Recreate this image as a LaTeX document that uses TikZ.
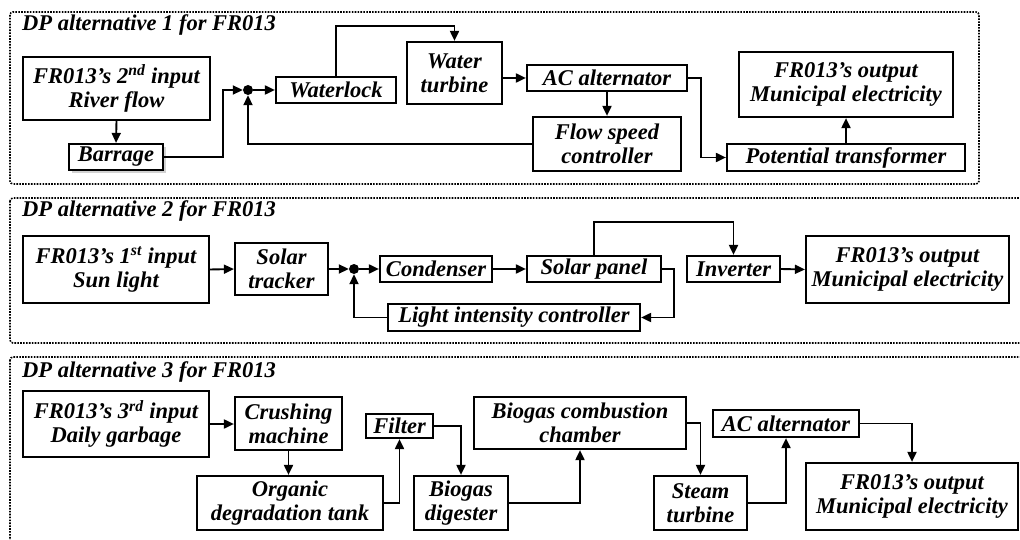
\documentclass[tikz,border=0pt]{standalone}
\usepackage{fontspec}
\setmainfont{Liberation Serif}
\usetikzlibrary{arrows.meta}
\begin{document}
\begin{tikzpicture}[x=1pt,y=-1pt,
  txt/.style={font=\bfseries\itshape\fontsize{22.5}{24}\selectfont},
  box/.style={txt,draw,line width=2.2pt,inner sep=0pt,align=center,fill=white},
  link/.style={line width=1.9pt,-{Triangle[length=10pt,width=9pt]}},
  panel/.style={line width=1.6pt,dash pattern=on 1.6pt off 1.3pt,rounded corners=3pt},
  title/.style={txt,anchor=base west,inner sep=0pt},
  jdot/.style={circle,fill,inner sep=0pt,minimum size=10pt}]
\useasboundingbox (0,0) rectangle (1020,540);
\clip (0,0) rectangle (1020,540);

% ---------- panels ----------
\draw[panel] (10,12) rectangle (979,184);
\draw[panel] (10,198) rectangle (1040,343);
\draw[panel] (10,357) rectangle (1040,570);
\node[title] (t1) at (22,31) {DP alternative 1 for FR013};
\node[title] (t2) at (22,217) {DP alternative 2 for FR013};
\node[title] (t3) at (22,377) {DP alternative 3 for FR013};

% ---------- alternative 1: river flow ----------
\node[box,minimum width=187pt,minimum height=63pt] (in1) at (116.5,88.5) {FR013's 2\textsuperscript{nd} input\\River flow};
\fill[gray!35] (72,147) rectangle (166,173);
\node[box,minimum width=94pt,minimum height=26pt] (bar) at (116,157) {Barrage};
\node[jdot] (j1) at (248,90) {};
\node[box,minimum width=120pt,minimum height=26pt] (wl) at (336,90) {Waterlock};
\node[box,minimum width=95pt,minimum height=62pt] (wt) at (454.5,73) {Water\\turbine};
\node[box,minimum width=160pt,minimum height=26pt] (ac1) at (607,78) {AC alternator};
\node[box,minimum width=148pt,minimum height=54pt] (fsc) at (607,144) {Flow speed\\controller};
\node[box,minimum width=238pt,minimum height=27pt] (pt) at (846,157.5) {Potential transformer};
\node[box,minimum width=214pt,minimum height=65pt] (out1) at (846,84.5) {FR013's output\\Municipal electricity};

\draw[link] (in1.south) -- (bar.north);
\draw[link] (bar.east) -- ++(59,0) |- (j1.west);
\draw[link] (fsc.west) -| (j1.south);
\draw[link] (j1.east) -- (wl.west);
\draw[link] (wl.north) -- ++(0,-50) -| (wt.north);
\draw[link] (wt.east |- ac1.west) -- (ac1.west);
\draw[link] (ac1.south) -- (fsc.north);
\draw[link] (ac1.east) -- ++(13,0) |- (pt.west);
\draw[link] (pt.north) -- (out1.south);

% ---------- alternative 2: sun light ----------
\node[box,minimum width=186pt,minimum height=67pt] (in2) at (116,269.5) {FR013's 1\textsuperscript{st} input\\Sun light};
\node[box,minimum width=93pt,minimum height=52pt] (st) at (281.5,269) {Solar\\tracker};
\node[jdot] (j2) at (354,269) {};
\node[box,minimum width=112pt,minimum height=26pt] (cond) at (436,269) {Condenser};
\node[box,minimum width=134pt,minimum height=26pt] (sp) at (594,269) {Solar panel};
\node[box,minimum width=252pt,minimum height=27pt] (lic) at (514,317.5) {Light intensity controller};
\node[box,minimum width=93pt,minimum height=26pt] (inv) at (733.5,269) {Inverter};
\node[box,minimum width=203pt,minimum height=67pt] (out2) at (907.5,269.5) {FR013's output\\Municipal electricity};

\draw[link] (in2.east) -- (st.west);
\draw[link] (st.east) -- (j2.west);
\draw[link] (j2.east) -- (cond.west);
\draw[link] (cond.east) -- (sp.west);
\draw[link] (sp.east) -- ++(12,0) |- (lic.east);
\draw[link] (lic.west) -| (j2.south);
\draw[link] (sp.north) -- ++(0,-33) -| (inv.north);
\draw[link] (inv.east) -- (out2.west);

% ---------- alternative 3: daily garbage ----------
\node[box,minimum width=186pt,minimum height=66pt] (in3) at (116,424) {FR013's 3\textsuperscript{rd} input\\Daily garbage};
\node[box,minimum width=107pt,minimum height=53pt] (cm) at (288.5,423.5) {Crushing\\machine};
\node[box,minimum width=186pt,minimum height=54pt] (odt) at (290,503) {Organic\\degradation tank};
\node[box,minimum width=67pt,minimum height=24pt] (fil) at (399.5,426) {Filter};
\node[box,minimum width=94pt,minimum height=54pt] (bd) at (461,503) {Biogas\\digester};
\node[box,minimum width=212pt,minimum height=52pt] (bcc) at (580,423) {Biogas combustion\\chamber};
\node[box,minimum width=93pt,minimum height=54pt] (stt) at (700.5,503) {Steam\\turbine};
\node[box,minimum width=146pt,minimum height=27pt] (ac3) at (786,423.5) {AC alternator};
\node[box,minimum width=212pt,minimum height=67pt] (out3) at (912,496.5) {FR013's output\\Municipal electricity};

\draw[link] (in3.east) -- (cm.west |- in3.east);
\draw[link] (cm.south) -- (odt.north -| cm.south);
\draw[link] (odt.east) -| (fil.south);
\draw[link] (fil.east) -| (bd.north);
\draw[link] (bd.east) -| (bcc.south);
\draw[link] (bcc.east) -| (stt.north);
\draw[link] (stt.east) -| (ac3.south);
\draw[link] (ac3.east) -| (out3.north);
\end{tikzpicture}
\end{document}
